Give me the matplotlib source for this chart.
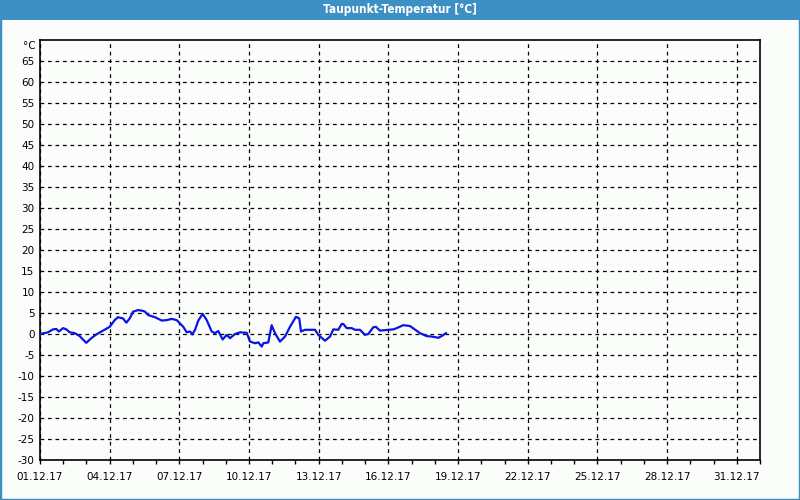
import matplotlib
matplotlib.use("Agg")
import matplotlib.pyplot as plt
import matplotlib.dates as mdates
from matplotlib.patches import Rectangle
from datetime import datetime, timedelta

# data: hours since 01.12.17 00:00 and dew point (°C)
hours = [0, 8.3, 13.4, 16.8, 19.6, 23.8, 27.2, 30.7, 35.9, 41.0, 47.8, 53.0, 58.2,
         65.1, 72.0, 77.2, 80.6, 85.8, 89.2, 92.7, 96.1, 101.3, 106.4, 108.5, 111.9,
         118.8, 125.8, 130.9, 136.1, 141.3, 144.7, 148.1, 151.6, 155.0, 157.4, 160.2,
         163.6, 168.1, 172.3, 177.4, 180.8, 184.2, 188.8, 192.9, 196.3, 201.5, 206.7,
         211.8, 213.6, 217.0, 222.2, 225.6, 229.1, 230.8, 235.9, 239.4, 242.8, 248.0,
         253.2, 258.3, 264.5, 267.9, 269.7, 273.8, 284.2, 287.6, 294.5, 299.7, 303.1,
         308.2, 311.8, 313.4, 316.9, 322.1, 325.5, 330.7, 335.8, 339.3, 344.4, 347.2,
         351.3, 359.9, 365.1, 368.6, 375.4, 382.3, 392.7, 399.6, 404.8, 411.6, 415.1,
         419.5]
dewpoint = [0.0, 0.4, 1.1, 1.2, 0.6, 1.4, 1.1, 0.4, 0.2, -0.5, -2.1, -1.0, -0.1,
            0.8, 1.7, 3.3, 4.0, 3.7, 2.7, 3.7, 5.3, 5.7, 5.5, 5.3, 4.5,
            4.0, 3.2, 3.3, 3.6, 3.3, 2.5, 1.7, 0.4, 0.6, -0.1, 1.0,
            3.2, 4.8, 3.3, 0.6, 0.2, 0.7, -1.3, -0.2, -1.0, 0.0, 0.4,
            0.3, 0.3, -1.8, -2.2, -2.0, -3.0, -2.2, -2.0, 2.1, 0.2, -1.8,
            -0.6, 1.7, 4.1, 3.7, 0.6, 1.0, 1.0, -0.2, -1.6, -0.6, 1.1,
            1.0, 2.4, 2.4, 1.4, 1.4, 1.0, 1.0, -0.2, 0.0, 1.6, 1.7,
            0.8, 1.0, 1.1, 1.4, 2.1, 1.9, 0.2, -0.5, -0.6, -0.9, -0.5,
            0.2]
title = "Taupunkt-Temperatur [°C]"
unit_label = "°C"
y_ticks = list(range(-30, 70, 5))

start = datetime(2017, 12, 1)
times = [start + timedelta(hours=h) for h in hours]

bg = "#fbfdfb"
blue_frame = "#3d90c4"

fig = plt.figure(figsize=(8, 5), dpi=100, facecolor=bg)

# frame border and title bar
fig.patches.append(Rectangle((0, 0), 1, 1, transform=fig.transFigure,
                             fill=False, edgecolor=blue_frame, linewidth=2.5, zorder=0))
fig.patches.append(Rectangle((0, 0.96), 1, 0.04, transform=fig.transFigure,
                             facecolor=blue_frame, edgecolor="none", zorder=1))
fig.text(0.5, 0.98, title, ha="center", va="center", color="white",
         fontsize=8.5, fontweight="bold", family="DejaVu Sans", fontstretch="condensed")

ax = fig.add_axes([0.05, 0.08, 0.90, 0.84])
ax.set_facecolor(bg)
ax.plot(times, dewpoint, color="#0a14e6", linewidth=1.6, zorder=3)

ax.set_xlim(datetime(2017, 12, 1), datetime(2018, 1, 1))
ax.set_ylim(-30, 70)

ax.set_yticks(y_ticks)
ax.set_yticklabels([str(v) for v in y_ticks])
ax.tick_params(axis="y", length=0, labelsize=7.5, pad=4)
ax.text(-0.0055, 68.6, unit_label, transform=ax.get_yaxis_transform(),
        ha="right", va="center", fontsize=7.5)

major_days = [start + timedelta(days=3 * i) for i in range(11)]
ax.set_xticks(major_days)
ax.xaxis.set_major_formatter(mdates.DateFormatter("%d.%m.%y"))
ax.xaxis.set_minor_locator(mdates.DayLocator())
ax.tick_params(axis="x", which="both", direction="out", length=3, width=1,
               labelsize=7.5, pad=6)

ax.grid(True, which="major", color="black", linestyle=(0, (3, 3)), linewidth=0.9)
ax.set_axisbelow(True)
for s in ax.spines.values():
    s.set_linewidth(1.2)
    s.set_color("black")

fig.savefig("out.png", dpi=100, facecolor=bg)
